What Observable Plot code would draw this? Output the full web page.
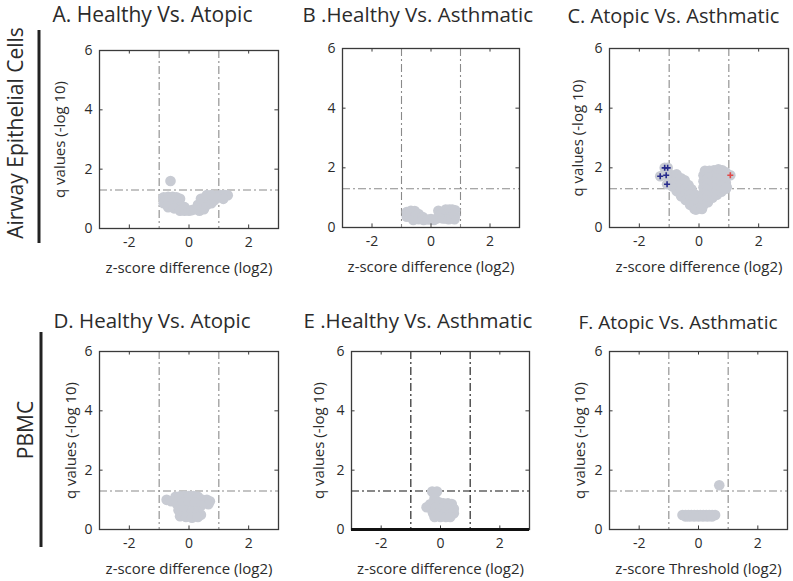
<!DOCTYPE html>
<html><head><meta charset="utf-8">
<script src="https://cdn.jsdelivr.net/npm/d3@7"></script>
<script src="https://cdn.jsdelivr.net/npm/@observablehq/plot@0.6"></script>
<style>
body{margin:0;background:#fff;}
#root{position:relative;width:793px;height:581px;overflow:hidden;background:#fff;font-family:"Open Sans",sans-serif;color:#2b2b2b;}
#root svg{position:absolute;}
</style></head><body><div id="root"></div>
<script>
// ---- data ----
const xTicks = [-2, 0, 2];
const yTicks = [0, 2, 4, 6];
const innerYTicks = [2, 4];
const qThreshold = [1.3];
const foldThreshold = [-1, 1];
const xDomain = [-3, 3];
const yDomain = [0, 6];

const titles = ["A. Healthy Vs. Atopic", "B .Healthy Vs. Asthmatic", "C. Atopic Vs. Asthmatic",
                "D. Healthy Vs. Atopic", "E .Healthy Vs. Asthmatic", "F. Atopic Vs. Asthmatic"];
const xLabels = ["z-score difference (log2)", "z-score difference (log2)", "z-score difference (log2)",
                 "z-score difference (log2)", "z-score difference (log2)", "z-score Threshold (log2)"];
const yLabel = "q values (-log 10)";
const rowLabels = ["Airway Epithelial Cells", "PBMC"];

// Airway epithelial cells
const epiHealthyAtopic = [[-0.62,1.6],[-0.85,1.05],[-0.7,1.07],[-0.55,1.07],[-0.42,1.05],[-0.3,1.0],
  [-0.85,0.85],[-0.7,0.88],[-0.55,0.85],[-0.4,0.8],[-0.25,0.75],[-0.7,0.72],[-0.5,0.68],[-0.3,0.6],
  [-0.15,0.6],[-0.15,0.72],[0,0.6],[0.1,0.62],[0.2,0.65],[0.35,0.6],[0.5,0.65],[0.3,0.8],[0.45,0.85],
  [0.6,0.8],[0.75,0.85],[0.4,1.0],[0.55,1.05],[0.7,1.0],[0.85,0.95],[0.6,1.13],[0.75,1.13],[0.9,1.1],
  [1.0,1.05],[1.05,1.13],[1.2,1.13],[1.3,1.12],[1.15,1.0]];
const epiHealthyAsthmatic = [[-0.82,0.52],[-0.82,0.36],[-0.68,0.56],[-0.68,0.38],[-0.55,0.55],[-0.55,0.35],
  [-0.6,0.25],[-0.42,0.45],[-0.42,0.28],[-0.28,0.35],[-0.25,0.25],[-0.1,0.27],[0,0.28],[0.1,0.25],[0.2,0.3],
  [0.25,0.56],[0.3,0.42],[0.4,0.3],[0.5,0.3],[0.6,0.28],[0.7,0.3],[0.8,0.28],[0.82,0.4],[0.5,0.6],
  [0.62,0.6],[0.72,0.6],[0.82,0.58]];
const epiAtopicAsthmatic = [[-1.15,2.0],[-1.05,2.0],[-1.3,1.72],[-1.1,1.75],[-1.07,1.45],
  [-0.9,1.75],[-0.9,1.55],[-0.9,1.38],[-0.75,1.78],[-0.75,1.6],[-0.75,1.4],[-0.75,1.22],
  [-0.6,1.65],[-0.6,1.45],[-0.6,1.25],[-0.6,1.05],[-0.48,1.58],
  [-0.45,1.3],[-0.45,1.1],[-0.45,0.92],[-0.35,1.42],[-0.25,1.28],[-0.3,1.1],[-0.3,0.92],[-0.3,0.76],
  [-0.12,1.1],[-0.15,0.95],[-0.15,0.78],[-0.15,0.62],
  [0,0.85],[0,0.65],[-0.1,0.6],[0.1,0.62],
  [0.15,0.75],[0.15,0.95],[0.15,1.15],[0.15,1.35],[0.15,1.55],[0.15,1.75],[0.2,1.9],
  [0.3,0.85],[0.3,1.05],[0.3,1.25],[0.3,1.45],[0.3,1.65],[0.35,1.9],
  [0.45,1.0],[0.45,1.15],[0.45,1.35],[0.45,1.55],[0.45,1.75],[0.5,1.92],
  [0.6,1.1],[0.6,1.25],[0.6,1.45],[0.6,1.65],[0.6,1.85],[0.65,1.95],
  [0.75,1.2],[0.75,1.35],[0.75,1.55],[0.75,1.75],[0.78,1.92],
  [0.9,1.3],[0.9,1.5],[0.9,1.7],[0.9,1.85],[0.93,1.35],[1.05,1.75]];
const epiAtopicAsthmaticDown = [[-1.15,2.0],[-1.05,2.0],[-1.3,1.72],[-1.1,1.75],[-1.07,1.45]];
const epiAtopicAsthmaticUp = [[1.05,1.75]];

// PBMC
const pbmcHealthyAtopic = [[-0.75,1.0],[-0.6,0.95],[-0.45,1.1],[-0.3,1.12],[-0.15,1.13],[0,1.13],[0.15,1.13],
  [0.3,1.1],[0.45,1.0],[0.6,1.0],[0.7,0.95],[0.65,0.85],[-0.4,0.85],[-0.2,0.9],[0,0.9],[0.2,0.9],[0.4,0.8],
  [-0.35,0.65],[-0.15,0.65],[0.1,0.6],[0.3,0.6],[0.4,0.5],[-0.3,0.45],[-0.1,0.42],[0.1,0.4],[0.3,0.42]];
const pbmcHealthyAsthmatic = [[-0.28,1.28],[-0.12,1.28],[-0.2,1.05],[-0.05,0.92],[0.1,0.88],[0.25,0.88],
  [0.38,0.86],[0.45,0.7],[0.45,0.55],[-0.47,0.75],[-0.35,0.85],[-0.3,0.68],[-0.15,0.75],[0.05,0.72],[0.25,0.7],
  [-0.25,0.55],[-0.05,0.55],[0.15,0.55],[0.32,0.52],[-0.2,0.42],[0,0.42],[0.18,0.42],[0.33,0.42]];
const pbmcAtopicAsthmatic = [[-0.54,0.49],[-0.44,0.49],[-0.34,0.49],[-0.24,0.49],[-0.14,0.49],[-0.04,0.49],
  [0.06,0.49],[0.16,0.49],[0.26,0.49],[0.36,0.49],[0.46,0.49],[0.56,0.49],
  [-0.43,0.44],[-0.3,0.44],[-0.15,0.44],[0,0.44],[0.15,0.44],[0.3,0.44],[0.45,0.44],[0.7,1.49]];

// ---- layout ----
const panels = [
  {pts: epiHealthyAtopic, fl: 99, ft: 50, fw: 179, fh: 178, tx: 52, ty: 21, tsize: 21, yOff: 35},
  {pts: epiHealthyAsthmatic, fl: 342, ft: 48, fw: 177, fh: 179, tx: 302, ty: 21, tsize: 20.5, yOff: null},
  {pts: epiAtopicAsthmatic, fl: 609, ft: 48, fw: 179, fh: 179, tx: 567, ty: 22, tsize: 20, yOff: 27,
   down: epiAtopicAsthmaticDown, up: epiAtopicAsthmaticUp},
  {pts: pbmcHealthyAtopic, fl: 99, ft: 351, fw: 179, fh: 178, tx: 53, ty: 327, tsize: 20.5, yOff: 24},
  {pts: pbmcHealthyAsthmatic, fl: 351, ft: 351, fw: 178, fh: 178, tx: 303, ty: 327, tsize: 20.5, yOff: 28, dark: true},
  {pts: pbmcAtopicAsthmatic, fl: 609, ft: 351, fw: 178, fh: 178, tx: 578, ty: 328, tsize: 19, yOff: 25}
];

const root = document.getElementById("root");
const grey = "#c8cbd3";
const axisColor = "#3a3a3a";

panels.forEach((p, i) => {
  const ml = 70, mr = 14, mt = 50, mb = 56;
  const lineColor = p.dark ? "#151515" : "#8a8a8a";
  const dash = "8,3,2,3";
  const toObj = a => a.map(([x, y]) => ({x, y}));
  const marks = [
    Plot.ruleX(foldThreshold, {stroke: lineColor, strokeWidth: 1.1, strokeDasharray: dash}),
    Plot.ruleY(qThreshold, {stroke: lineColor, strokeWidth: 1.1, strokeDasharray: dash}),
    Plot.dot(toObj(p.pts), {x: "x", y: "y", r: 5.3, fill: grey, stroke: "none"})
  ];
  if (p.down) marks.push(Plot.dot(toObj(p.down), {x: "x", y: "y", symbol: "plus", r: 2.1, stroke: "#262a8c", strokeWidth: 1.6, fill: "none"}));
  if (p.up) marks.push(Plot.dot(toObj(p.up), {x: "x", y: "y", symbol: "plus", r: 2.1, stroke: "#e04a4a", strokeWidth: 1.6, fill: "none"}));
  marks.push(
    Plot.frame({stroke: axisColor, strokeWidth: 1.3}),
    Plot.ruleX(xTicks, {y1: 0, y2: 0.12, stroke: axisColor}),
    Plot.ruleX(xTicks, {y1: 5.88, y2: 6, stroke: axisColor}),
    Plot.ruleY(innerYTicks, {x1: -3, x2: -2.88, stroke: axisColor}),
    Plot.ruleY(innerYTicks, {x1: 2.88, x2: 3, stroke: axisColor}),
    Plot.axisX({ticks: xTicks, tickSize: 0, tickPadding: 9, tickFormat: d => String(d), fontSize: 14, label: null}),
    Plot.axisY({ticks: yTicks, tickSize: 0, tickPadding: 7, tickFormat: d => String(d), fontSize: 14, label: null}),
    Plot.text([xLabels[i]], {text: d => d, frameAnchor: "bottom", dy: 44, lineAnchor: "bottom", fontSize: 15}),
    Plot.text([titles[i]], {text: d => d, frameAnchor: "top-left", dx: p.tx - p.fl, dy: p.ty - p.ft,
      textAnchor: "start", lineAnchor: "bottom", fontSize: p.tsize})
  );
  if (p.dark) marks.push(Plot.ruleY([0], {stroke: "#111", strokeWidth: 3}));
  if (p.yOff != null) marks.push(Plot.text([yLabel], {text: d => d, frameAnchor: "left", dx: -p.yOff,
      rotate: -90, textAnchor: "middle", lineAnchor: "bottom", fontSize: 15}));
  const svg = Plot.plot({
    width: p.fw + ml + mr, height: p.fh + mt + mb,
    marginLeft: ml, marginRight: mr, marginTop: mt, marginBottom: mb,
    x: {domain: xDomain}, y: {domain: yDomain},
    style: {background: "transparent", overflow: "visible", fontFamily: "Open Sans", fontSize: "14px", color: "#2b2b2b"},
    marks
  });
  svg.style.left = (p.fl - ml) + "px";
  svg.style.top = (p.ft - mt) + "px";
  svg.style.maxWidth = "none";
  root.appendChild(svg);
});

// row labels and separator bars
const ov = d3.select(root).append("svg").attr("width", 793).attr("height", 581)
  .style("left", "0px").style("top", "0px").style("font-family", "Open Sans");
ov.append("line").attr("x1", 39).attr("x2", 39).attr("y1", 30).attr("y2", 243)
  .attr("stroke", "#222").attr("stroke-width", 3);
ov.append("line").attr("x1", 41).attr("x2", 41).attr("y1", 332).attr("y2", 547)
  .attr("stroke", "#222").attr("stroke-width", 3);
ov.append("text").attr("transform", "translate(23,133) rotate(-90)").attr("text-anchor", "middle")
  .attr("font-size", 21).attr("fill", "#2b2b2b").text(rowLabels[0]);
ov.append("text").attr("transform", "translate(33,430) rotate(-90)").attr("text-anchor", "middle")
  .attr("font-size", 21).attr("fill", "#2b2b2b").text(rowLabels[1]);
</script></body></html>
